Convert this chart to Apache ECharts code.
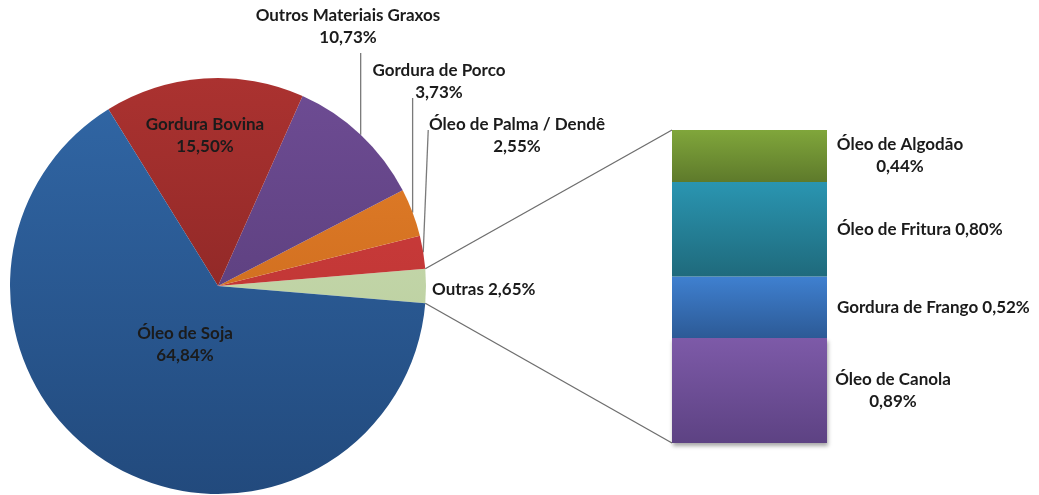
<!DOCTYPE html>
<html>
<head>
<meta charset="utf-8">
<title>Matérias-primas para biodiesel</title>
<script src="https://cdn.jsdelivr.net/npm/echarts@6/dist/echarts.min.js"></script>
<style>
  html, body { margin: 0; padding: 0; background: #ffffff; }
  #chart { width: 1039px; height: 495px; }
</style>
</head>
<body>
<div id="chart"></div>
<script>
// Main pie: share of each raw material (%)
const pieNames = ['Outras', 'Óleo de Palma / Dendê', 'Gordura de Porco', 'Outros Materiais Graxos', 'Gordura Bovina', 'Óleo de Soja'];
const pieValues = [2.65, 2.55, 3.73, 10.73, 15.50, 64.84];

// Breakdown of "Outras", stacked bottom to top
const barNames = ['Óleo de Canola', 'Gordura de Frango', 'Óleo de Fritura', 'Óleo de Algodão'];
const barValues = [0.89, 0.52, 0.80, 0.44];

// Layout
const PIE = { cx: 218, cy: 286, r: 208 };
const GRID = { left: 672, top: 130, width: 155, height: 313 };
const FONT = { fontFamily: 'Lato', fontWeight: 'bold', fontSize: 17, lineHeight: 22, color: '#1b1b1b' };

const pieColors = {
  'Outras': ['#cddfb6', '#b3c895'],
  'Óleo de Palma / Dendê': ['#d23f3e', '#b3302f'],
  'Gordura de Porco': ['#e6812a', '#bf6018'],
  'Outros Materiais Graxos': ['#6e4c94', '#50376f'],
  'Gordura Bovina': ['#ab3230', '#7a2120'],
  'Óleo de Soja': ['#3167a6', '#224a7d']
};
const barColors = {
  'Óleo de Canola': ['#7d5aa8', '#5d4283'],
  'Gordura de Frango': ['#3f80d0', '#2c5a96'],
  'Óleo de Fritura': ['#2a95b1', '#1f6a7c'],
  'Óleo de Algodão': ['#80a63b', '#5e7a2b']
};

// Label placement for the pie slices
const pieLabelPlace = {
  'Outros Materiais Graxos': { x: 348, y: 27, lineTopY: 53, lineDx: 0 },
  'Gordura de Porco': { x: 439, y: 82, lineTopY: 98, lineDx: 0 },
  'Óleo de Palma / Dendê': { x: 517, y: 136, lineTopY: 130, lineDx: 5 },
  'Outras': { x: 432, y: 290, align: 'left' },
  'Gordura Bovina': { x: 205, y: 136 },
  'Óleo de Soja': { x: 185, y: 345 }
};
const singleLine = { 'Outras': true, 'Óleo de Fritura': true, 'Gordura de Frango': true };

const fmt = v => v.toFixed(2).replace('.', ',') + '%';
const pieTotal = pieValues.reduce((a, b) => a + b, 0);
const barTotal = barValues.reduce((a, b) => a + b, 0);
const startAngle = 360 - (pieValues[0] / pieTotal * 360) / 2;

// Mid angle (degrees, counter-clockwise from 3 o'clock) of slice i
function midAngle(i) {
  let before = 0;
  for (let k = 0; k < i; k++) before += pieValues[k];
  return startAngle + (before + pieValues[i] / 2) / pieTotal * 360;
}
function rimPoint(deg) {
  const a = deg * Math.PI / 180;
  return [PIE.cx + PIE.r * Math.cos(a), PIE.cy - PIE.r * Math.sin(a)];
}

const chart = echarts.init(document.getElementById('chart'), null, { renderer: 'canvas' });

const pieData = pieNames.map((name, i) => {
  const c = pieColors[name];
  const hasLine = pieLabelPlace[name].lineTopY !== undefined;
  return {
    name: name,
    value: pieValues[i],
    itemStyle: {
      color: {
        type: 'linear', x: 0, y: PIE.cy - PIE.r, x2: 0, y2: PIE.cy + PIE.r, global: true,
        colorStops: [{ offset: 0, color: c[0] }, { offset: 1, color: c[1] }]
      }
    },
    labelLine: { show: hasLine, lineStyle: { color: '#7a7a7a', width: 1.3 } }
  };
});

const barSeries = barNames.map((name, i) => {
  const c = barColors[name];
  const two = !singleLine[name];
  return {
    type: 'bar',
    name: name,
    stack: 'outras',
    barWidth: '100%',
    barCategoryGap: 0,
    silent: true,
    data: [barValues[i]],
    itemStyle: {
      color: {
        type: 'linear', x: 0, y: 0, x2: 0, y2: 1,
        colorStops: [{ offset: 0, color: c[0] }, { offset: 1, color: c[1] }]
      },
      shadowBlur: i === 0 ? 4 : 0,
      shadowOffsetY: i === 0 ? 3 : 0,
      shadowOffsetX: i === 0 ? 1 : 0,
      shadowColor: 'rgba(0,0,0,0.35)'
    },
    label: Object.assign({
      show: true,
      position: 'right',
      distance: two ? 0 : 10,
      align: two ? 'center' : 'left',
      offset: two ? [name === 'Óleo de Algodão' ? 73 : 66, 0] : [0, 0],
      formatter: p => two ? p.seriesName + '\n' + fmt(p.value) : p.seriesName + ' ' + fmt(p.value)
    }, FONT)
  };
});

chart.setOption({
  animation: false,
  backgroundColor: '#ffffff',
  grid: { left: GRID.left, top: GRID.top, width: GRID.width, height: GRID.height, containLabel: false },
  xAxis: { type: 'category', data: ['Outras'], show: false },
  yAxis: { type: 'value', min: 0, max: barTotal, show: false },
  series: [
    {
      type: 'pie',
      center: [PIE.cx, PIE.cy],
      radius: [0, PIE.r],
      startAngle: startAngle,
      clockwise: false,
      silent: true,
      avoidLabelOverlap: false,
      data: pieData,
      label: Object.assign({
        show: true,
        position: 'outside',
        align: 'center',
        formatter: p => singleLine[p.name] ? p.name + ' ' + fmt(p.value) : p.name + '\n' + fmt(p.value)
      }, FONT),
      labelLayout: function (params) {
        const name = pieNames[params.dataIndex];
        const place = pieLabelPlace[name];
        const out = {
          x: place.x,
          y: place.y,
          align: place.align || 'center',
          verticalAlign: 'middle'
        };
        if (place.lineTopY !== undefined) {
          const p0 = rimPoint(midAngle(params.dataIndex));
          const p1 = [p0[0] + place.lineDx, place.lineTopY];
          out.labelLinePoints = [p0, p1, p1];
        }
        return out;
      }
    }
  ].concat(barSeries)
});

// Connector lines from the "Outras" wedge to the breakdown bar
const halfSpan = pieValues[0] / pieTotal * 180;
const topRim = rimPoint(halfSpan);
const botRim = rimPoint(-halfSpan);
chart.setOption({
  graphic: [
    { type: 'line', silent: true, shape: { x1: topRim[0], y1: topRim[1], x2: GRID.left, y2: GRID.top }, style: { stroke: '#6e6e6e', lineWidth: 1.3 } },
    { type: 'line', silent: true, shape: { x1: botRim[0], y1: botRim[1], x2: GRID.left, y2: GRID.top + GRID.height }, style: { stroke: '#6e6e6e', lineWidth: 1.3 } }
  ]
});
</script>
</body>
</html>
